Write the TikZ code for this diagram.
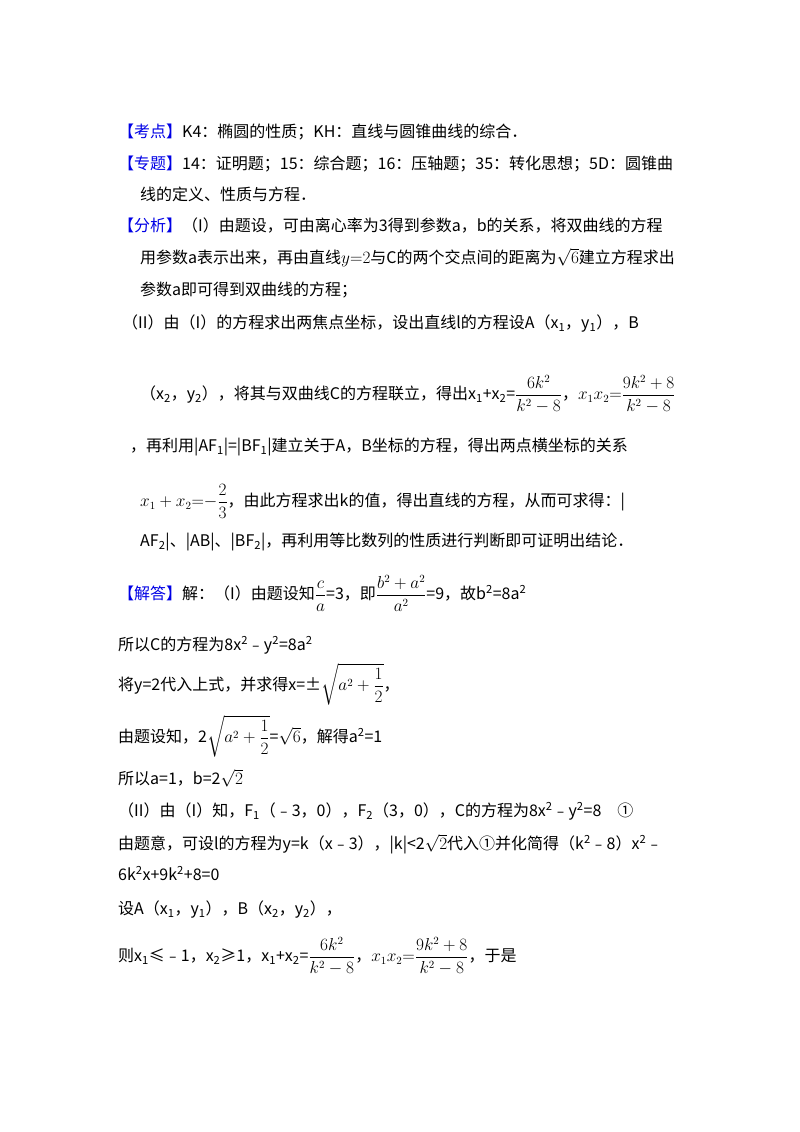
\documentclass[tikz,border=0pt]{standalone}
\usepackage{fontspec}
\setmainfont{Noto Sans CJK SC}
\usepackage{amsmath}
\definecolor{kblue}{RGB}{0,0,230}
\newcommand{\kw}[1]{\textcolor{kblue}{#1}}
\begin{document}
\begin{tikzpicture}[x=1pt,y=1pt,
  ln/.style={anchor=base west,inner sep=0pt,font=\fontsize{16}{18}\selectfont}]
\useasboundingbox[fill=white] (0,0) rectangle (800,1132);
\node[ln] (l1) at (118,1132-138) {\kw{【考点】}K4：椭圆的性质；KH：直线与圆锥曲线的综合．};
\node[ln] (l2) at (118,1132-170) {\kw{【专题】}14：证明题；15：综合题；16：压轴题；35：转化思想；5D：圆锥曲};
\node[ln] (l3) at (140,1132-201) {线的定义、性质与方程．};
\node[ln] (l4) at (118,1132-232) {\kw{【分析】}（I）由题设，可由离心率为3得到参数a，b的关系，将双曲线的方程};
\node[ln] (l5) at (140,1132-264) {用参数a表示出来，再由直线$y{=}2$与C的两个交点间的距离为$\sqrt6$建立方程求出};
\node[ln] (l6) at (140,1132-296) {参数a即可得到双曲线的方程；};
\node[ln] (l7) at (122,1132-329) {（II）由（I）的方程求出两焦点坐标，设出直线l的方程设A（x\textsubscript{1}，y\textsubscript{1}），B};
\node[ln] (l8) at (140,1132-400) {（x\textsubscript{2}，y\textsubscript{2}），将其与双曲线C的方程联立，得出x\textsubscript{1}+x\textsubscript{2}=$\dfrac{6k^2}{k^2-8}$，$x_1x_2{=}\dfrac{9k^2+8}{k^2-8}$};
\node[ln] (l9) at (130,1132-452) {，再利用|AF\textsubscript{1}|=|BF\textsubscript{1}|建立关于A，B坐标的方程，得出两点横坐标的关系};
\node[ln] (l10) at (140,1132-507) {$x_1+x_2{=}{-}\dfrac{2}{3}$，由此方程求出k的值，得出直线的方程，从而可求得：|};
\node[ln] (l11) at (140,1132-547) {AF\textsubscript{2}|、|AB|、|BF\textsubscript{2}|，再利用等比数列的性质进行判断即可证明出结论．};
\node[ln] (l12) at (118,1132-600) {\kw{【解答】}解：（I）由题设知$\dfrac{c}{a}$=3，即$\dfrac{b^2+a^2}{a^2}$=9，故b\textsuperscript{2}=8a\textsuperscript{2}};
\node[ln] (l13) at (118,1132-651) {所以C的方程为8x\textsuperscript{2}﹣y\textsuperscript{2}=8a\textsuperscript{2}};
\node[ln] (l14) at (118,1132-691) {将y=2代入上式，并求得x=±$\sqrt{a^2+\dfrac12}$，};
\node[ln] (l15) at (118,1132-743) {由题设知，2$\sqrt{a^2+\dfrac12}$=$\sqrt6$，解得a\textsuperscript{2}=1};
\node[ln] (l16) at (118,1132-785) {所以a=1，b=2$\sqrt2$};
\node[ln] (l17) at (118,1132-817) {（II）由（I）知，F\textsubscript{1}（﹣3，0），F\textsubscript{2}（3，0），C的方程为8x\textsuperscript{2}﹣y\textsuperscript{2}=8\quad ①};
\node[ln] (l18) at (118,1132-850) {由题意，可设l的方程为y=k（x﹣3），|k|<2$\sqrt2$代入①并化简得（k\textsuperscript{2}﹣8）x\textsuperscript{2}﹣};
\node[ln] (l19) at (118,1132-881) {6k\textsuperscript{2}x+9k\textsuperscript{2}+8=0};
\node[ln] (l20) at (118,1132-915) {设A（x\textsubscript{1}，y\textsubscript{1}），B（x\textsubscript{2}，y\textsubscript{2}），};
\node[ln] (l21) at (118,1132-962) {则x\textsubscript{1}≤﹣1，x\textsubscript{2}≥1，x\textsubscript{1}+x\textsubscript{2}=$\dfrac{6k^2}{k^2-8}$，$x_1x_2{=}\dfrac{9k^2+8}{k^2-8}$，于是};
\end{tikzpicture}
\end{document}
